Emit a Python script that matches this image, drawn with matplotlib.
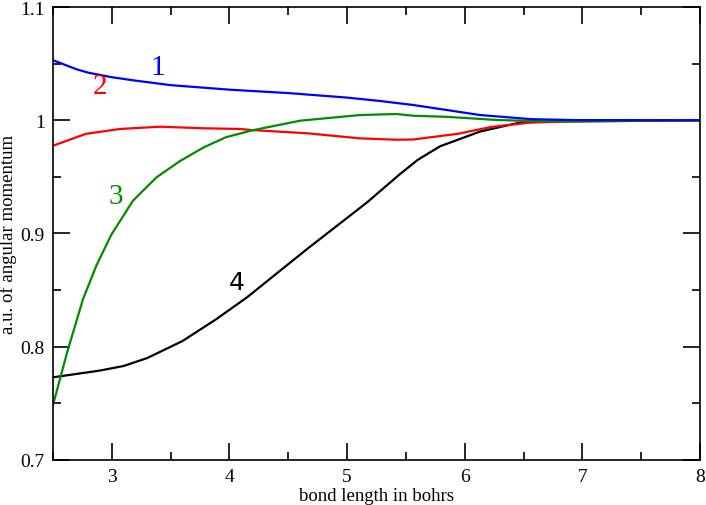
import numpy as np
import matplotlib.pyplot as plt
from matplotlib.ticker import MultipleLocator

plt.rcParams['font.family'] = ['Liberation Serif', 'DejaVu Serif']

# curva 1 (azul)
x1 = [2.5, 2.6, 2.7, 2.8, 3.0, 3.2, 3.5, 4.0, 4.5, 5.0, 5.28, 5.56, 5.85, 6.13, 6.56, 7.0, 8.0]
y1 = [1.053, 1.049, 1.045, 1.042, 1.038, 1.035, 1.031, 1.027, 1.024, 1.020, 1.017, 1.0135, 1.009, 1.0046, 1.001, 1.000, 1.000]

# curva 2 (roja)
x2 = [2.5, 2.78, 3.07, 3.41, 3.78, 4.09, 4.18, 4.66, 5.11, 5.42, 5.56, 5.94, 6.22, 6.56, 7.0, 8.0]
y2 = [0.9775, 0.988, 0.9923, 0.9943, 0.9929, 0.9923, 0.9914, 0.9885, 0.984, 0.9828, 0.983, 0.988, 0.994, 0.998, 0.999, 1.000]

# curva 3 (verde)
x3 = [2.5, 2.62, 2.755, 2.87, 2.996, 3.18, 3.38, 3.58, 3.78, 3.97, 4.19, 4.6, 5.11, 5.42, 5.56, 5.85, 6.28, 6.7, 7.0, 8.0]
y3 = [0.7486, 0.795, 0.842, 0.872, 0.899, 0.929, 0.9496, 0.964, 0.976, 0.985, 0.991, 0.9996, 1.0046, 1.0055, 1.004, 1.003, 1.0002, 0.999, 0.999, 1.000]

# curva 4 (negra)
x4 = [2.5, 2.9, 3.1, 3.3, 3.6, 3.89, 4.15, 4.66, 5.17, 5.45, 5.6, 5.79, 6.13, 6.47, 7.0, 8.0]
y4 = [0.773, 0.779, 0.783, 0.790, 0.805, 0.8245, 0.8437, 0.8863, 0.9275, 0.9525, 0.965, 0.977, 0.990, 0.998, 1.000, 1.000]

fig = plt.figure(figsize=(7.06, 5.06), dpi=100)
ax = fig.add_axes([53/706, 45/506, 647/706, 453/506])

ax.plot(x4, y4, color='black', lw=1.6)
ax.plot(x2, y2, color='red', lw=1.6)
ax.plot(x3, y3, color='#008c00', lw=1.6)
ax.plot(x1, y1, color='blue', lw=1.6)

ax.text(3.39, 1.047, '1', color='blue', fontsize=21, ha='center', va='center')
ax.text(2.9, 1.030, '2', color='red', fontsize=21, ha='center', va='center')
ax.text(3.03, 0.933, '3', color='#008c00', fontsize=21, ha='center', va='center')
ax.text(4.06, 0.857, '4', color='black', fontsize=18, ha='center', va='center',
        family='DejaVu Sans')

ax.set_xlim(2.5, 8)
ax.set_ylim(0.7, 1.1)
ax.xaxis.set_major_locator(MultipleLocator(1))
ax.xaxis.set_minor_locator(MultipleLocator(0.5))
ax.yaxis.set_major_locator(MultipleLocator(0.1))
ax.yaxis.set_minor_locator(MultipleLocator(0.05))
ax.yaxis.set_major_formatter(plt.FuncFormatter(lambda v, p: f'{v:g}'))
ax.tick_params(which='both', direction='in', top=True, right=True, labelsize=14, width=1.2)
ax.tick_params(which='major', length=12, pad=6)
ax.tick_params(which='minor', length=6)
for s in ax.spines.values():
    s.set_linewidth(1.2)

ax.set_xlabel('bond length in bohrs', fontsize=13.5, labelpad=1)
ax.set_ylabel('a.u. of angular momentum', fontsize=13.5, labelpad=2)

plt.savefig('out.png', dpi=100)
